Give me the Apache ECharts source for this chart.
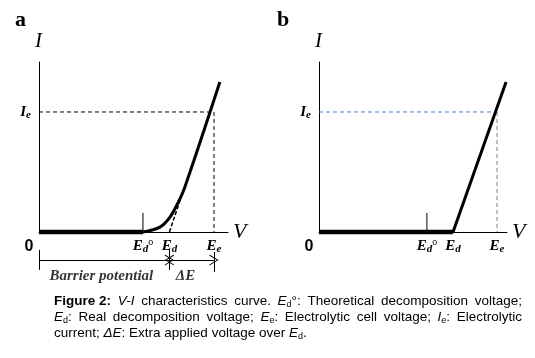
<!DOCTYPE html>
<html>
<head>
<meta charset="utf-8">
<script src="https://cdn.jsdelivr.net/npm/echarts@6/dist/echarts.min.js"></script>
<style>
  html, body { margin: 0; padding: 0; background: #fff; }
  #chart { width: 535px; height: 358px; }
</style>
</head>
<body>
<div id="chart"></div>
<script>
// arbitrary units: V on x (0..10), I on y (0..10)

// panel a
const edoA = 5.5, edA = 6.9, eeA = 9.26, ieA = 7.06;
const flatA = [[0, 0], [5.5, 0]];
const curveA = [[5.5, 0], [6.4, 0.29], [6.93, 0.88], [7.35, 1.71], [7.72, 2.65], [9.57, 8.82]];
const tangentA = [[6.9, 0], [7.5, 1.98]];
const guideA = [[0, 7.06], [9.26, 7.06], [9.26, 0]];
const tickA = [[5.5, 0], [5.5, 1.12]];

// panel b
const edoB = 5.74, edB = 7.13, eeB = 9.47, ieB = 7.06;
const flatB = [[0, 0], [7.13, 0]];
const lineB = [[7.13, 0], [9.95, 8.82]];
const guideBh = [[0, 7.06], [9.47, 7.06]];
const guideBv = [[9.47, 7.06], [9.47, 0]];
const tickB = [[5.74, 0], [5.74, 1.12]];

// dimension row under panel a (own strip, same V scale, y 0..1)
const rowY = 0.57;
const rowTicks = [[0, 0.86, 0.29], [6.9, 0.86, 0.29], [9.26, 0.8, 0.23]];
const rowTexts = [[3.3, 0.11, 'Barrier potential'], [7.75, 0.11, 'ΔE']];

// caption, lines 1-2 are justified
const captionLines = [
  '{b|Figure 2:} {i|V-I} characteristics curve. {i|E}{s|d}°: Theoretical decomposition voltage;',
  '{i|E}{s|d}: Real decomposition voltage; {i|E}{s|e}: Electrolytic cell voltage; {i|I}{s|e}: Electrolytic',
  'current; {i|ΔE}: Extra applied voltage over {i|E}{s|d}.'
];

const serif = 'Liberation Serif';
const sans = 'Liberation Sans';
const chevron = 'path://M0,10 L5,0 L10,10 L9,10 L5,1.8 L1,10 Z';

const labRich = {
  E: { fontFamily: serif, fontStyle: 'italic', fontWeight: 'bold', fontSize: 15, color: '#000', lineHeight: 18 },
  s: { fontFamily: serif, fontStyle: 'italic', fontWeight: 'bold', fontSize: 11, color: '#000', verticalAlign: 'bottom', lineHeight: 18 },
  o: { fontFamily: serif, fontSize: 10, color: '#000', verticalAlign: 'top', lineHeight: 14 },
  z: { fontFamily: sans, fontWeight: 'bold', fontSize: 16, color: '#000', padding: [2, 20, 0, 0] }
};

function xLabels(edo, ed, ee) {
  return (v) => {
    if (v === 0) return '{z|0}';
    if (Math.abs(v - edo) < 1e-6) return '{E|E}{s|d}{o|o}';
    if (Math.abs(v - ed) < 1e-6) return '{E|E}{s|d}';
    if (Math.abs(v - ee) < 1e-6) return '{E|E}{s|e}';
    return '';
  };
}

function xAxisFor(idx, edo, ed, ee) {
  return {
    type: 'value', gridIndex: idx, min: 0, max: 10,
    splitLine: { show: false },
    axisLine: { lineStyle: { color: '#000', width: 1 } },
    axisTick: { show: false },
    axisLabel: { customValues: [0, edo, ed, ee], formatter: xLabels(edo, ed, ee), rich: labRich, margin: 5 },
    name: 'V', nameLocation: 'end', nameGap: 5,
    nameTextStyle: { fontFamily: serif, fontStyle: 'italic', fontSize: 22, color: '#000', verticalAlign: 'middle' }
  };
}

function yAxisFor(idx, ie) {
  return {
    type: 'value', gridIndex: idx, min: 0, max: 10,
    splitLine: { show: false },
    axisLine: { lineStyle: { color: '#000', width: 1 } },
    axisTick: { show: false },
    axisLabel: { customValues: [ie], formatter: '{E|I}{s|e}', rich: labRich, margin: 8 },
    name: 'I', nameLocation: 'end', nameGap: 10,
    nameTextStyle: { fontFamily: serif, fontStyle: 'italic', fontSize: 21, color: '#000', align: 'left', padding: [0, 0, 0, -4] }
  };
}

function seg(idx, data, width, color, type) {
  return {
    type: 'line', xAxisIndex: idx, yAxisIndex: idx, data: data,
    showSymbol: false, symbol: 'none', clip: false, silent: true,
    lineStyle: { color: color || '#000', width: width, type: type || 'solid' }
  };
}

// caption layout: measure words, stretch the gaps on justified lines
const capSize = 13.5;
const capFont = {
  n: capSize + 'px "Liberation Sans"', b: 'bold ' + capSize + 'px "Liberation Sans"',
  i: 'italic ' + capSize + 'px "Liberation Sans"', s: '9px "Liberation Sans"'
};
const measureCtx = document.createElement('canvas').getContext('2d');
function capTokens(line) {
  const out = [];
  const re = /\{(\w+)\|([^}]*)\}|([^{]+)/g;
  let m;
  while ((m = re.exec(line))) {
    if (m[1]) out.push({ k: m[1], t: m[2] });
    else m[3].split(/( )/).forEach(p => { if (p === ' ') out.push({ k: 'g' }); else if (p) out.push({ k: 'n', t: p }); });
  }
  return out;
}
function capLine(line, target) {
  const toks = capTokens(line);
  let w = 0, gaps = 0;
  toks.forEach(t => {
    if (t.k === 'g') { gaps++; return; }
    measureCtx.font = capFont[t.k];
    w += measureCtx.measureText(t.t).width;
  });
  measureCtx.font = capFont.n;
  const sp = measureCtx.measureText(' ').width;
  const gap = target ? Math.max(sp, (target - w) / gaps) : sp;
  return { text: toks.map(t => t.k === 'g' ? '{g| }' : '{' + t.k + '|' + t.t + '}').join(''), gap: gap };
}

const capLeft = 54, capRight = 522, capTop = 294, capStep = 16;
const capRich = (gap) => ({
  n: { fontFamily: sans, fontSize: capSize, lineHeight: 16 },
  b: { fontFamily: sans, fontWeight: 'bold', fontSize: capSize, lineHeight: 16 },
  i: { fontFamily: sans, fontStyle: 'italic', fontSize: capSize, lineHeight: 16 },
  s: { fontFamily: sans, fontSize: 9, verticalAlign: 'bottom', lineHeight: 16 },
  g: { fontFamily: sans, fontSize: capSize, width: gap, lineHeight: 16 }
});
const captionGraphics = captionLines.map((line, k) => {
  const c = capLine(line, k < 2 ? capRight - capLeft : 0);
  return {
    type: 'text', left: capLeft, top: capTop + k * capStep,
    style: { text: c.text, fill: '#000', rich: capRich(c.gap) }
  };
});

const hiddenAxis = { show: false, type: 'value', gridIndex: 2, min: 0, max: 10, splitLine: { show: false } };

const chart = echarts.init(document.getElementById('chart'));
chart.setOption({
  animation: false,
  grid: [
    { left: 39, top: 62, width: 189, height: 170 },
    { left: 319, top: 62, width: 188, height: 170 },
    { left: 39, top: 245, width: 189, height: 35 }
  ],
  xAxis: [xAxisFor(0, edoA, edA, eeA), xAxisFor(1, edoB, edB, eeB), hiddenAxis],
  yAxis: [yAxisFor(0, ieA), yAxisFor(1, ieB), Object.assign({}, hiddenAxis, { max: 1 })],
  series: [
    seg(0, guideA, 1, '#000', [4, 3]),
    seg(0, tickA, 1),
    seg(0, flatA, 4.5),
    Object.assign(seg(0, curveA, 3), { smooth: 0.35 }),
    seg(0, tangentA, 1.5, '#000', [4, 2]),
    // dimension row
    {
      type: 'line', xAxisIndex: 2, yAxisIndex: 2, data: [[0, rowY]], clip: false, silent: true,
      symbol: 'none', lineStyle: { width: 0 },
      markLine: {
        silent: true, animation: false,
        label: { show: false },
        lineStyle: { color: '#000', width: 1, type: 'solid' },
        symbolSize: [11, 9],
        data: [
          [{ coord: [0, rowY], symbol: 'none' }, { coord: [edA, rowY], symbol: chevron }],
          [{ coord: [edA, rowY], symbol: chevron }, { coord: [eeA, rowY], symbol: chevron }]
        ].concat(rowTicks.map(t => [
          { coord: [t[0], t[1]], symbol: 'none' }, { coord: [t[0], t[2]], symbol: 'none' }
        ]))
      }
    },
    {
      type: 'scatter', xAxisIndex: 2, yAxisIndex: 2, clip: false, silent: true,
      symbolSize: 0, itemStyle: { color: '#000' },
      data: rowTexts.map(t => ({ value: [t[0], t[1]], name: t[2] })),
      label: {
        show: true, position: 'inside', formatter: '{b}',
        fontFamily: serif, fontStyle: 'italic', fontWeight: 'bold', fontSize: 15, color: '#000'
      }
    },
    // panel b
    seg(1, guideBh, 1, '#4f81bd', [4, 3]),
    seg(1, guideBv, 1, '#808080', [4, 3]),
    seg(1, tickB, 1),
    seg(1, flatB, 4.5),
    seg(1, lineB, 3)
  ],
  graphic: [
    { type: 'text', left: 15, top: 9, style: { text: 'a', fontFamily: serif, fontWeight: 'bold', fontSize: 22, fill: '#000' } },
    { type: 'text', left: 277, top: 9, style: { text: 'b', fontFamily: serif, fontWeight: 'bold', fontSize: 22, fill: '#000' } }
  ].concat(captionGraphics)
});
</script>
</body>
</html>
